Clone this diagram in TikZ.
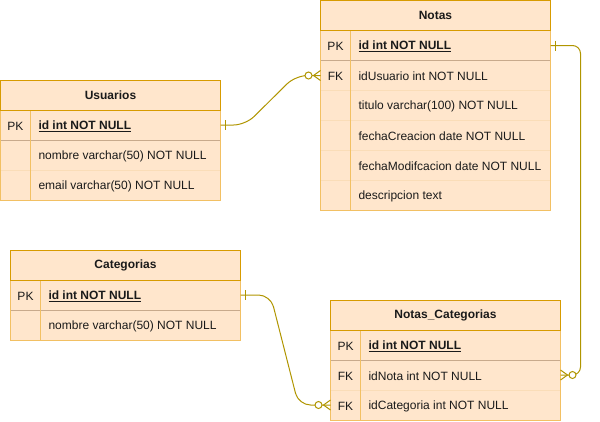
\documentclass[tikz,border=0pt]{standalone}
\usepackage{fontspec}
\setmainfont{Liberation Sans}
\usetikzlibrary{calc}
\definecolor{fillc}{HTML}{FFE6CC}
\definecolor{hdrline}{HTML}{D79B00}
\definecolor{rowline}{HTML}{F2C063}
\definecolor{sepline}{HTML}{FADDB8}
\definecolor{pkline}{HTML}{C8AA8C}
\definecolor{conn}{HTML}{B09500}
\definecolor{txt}{HTML}{1A1A1A}
\begin{document}
\begin{tikzpicture}[x=1pt,y=-1pt,
  every node/.style={inner sep=0pt, outer sep=0pt},
  hdrbox/.style={draw=hdrline, fill=fillc, line width=1pt, anchor=north west, minimum height=30pt, font=\fontsize{12pt}{14pt}\selectfont\bfseries, text=txt},
  rowbox/.style={fill=fillc, anchor=north west, minimum height=30pt},
  keytxt/.style={font=\fontsize{12pt}{14pt}\selectfont, text=txt, yshift=-1pt},
  fieldtxt/.style={anchor=west, font=\fontsize{12pt}{14pt}\selectfont, text=txt, yshift=-1pt},
  pktxt/.style={anchor=west, font=\fontsize{12pt}{14pt}\selectfont\bfseries, text=txt, yshift=-1pt},
  outerl/.style={draw=rowline, line width=1pt},
  sepl/.style={draw=sepline, line width=1pt},
  pkl/.style={draw=pkline, line width=1pt},
  conline/.style={draw=conn, line width=1pt},
  circmark/.style={draw=conn, line width=1pt, fill=white}
]
\useasboundingbox (0,0) rectangle (600,421);

% ---------------- Usuarios ----------------
\node[rowbox, minimum width=220pt] (uR1) at (0.5,110) {};
\node[rowbox, minimum width=220pt] (uR2) at (0.5,140) {};
\node[rowbox, minimum width=220pt] (uR3) at (0.5,170) {};
\draw[sepl] (uR3.north west) -- (uR3.north east);
\draw[pkl] (uR1.south west) -- (uR1.south east);
\draw[outerl] ($(uR1.north west)+(30,0)$) -- ($(uR3.south west)+(30,0)$);
\draw[outerl] (uR1.north west) rectangle (uR3.south east);
\node[hdrbox, minimum width=220pt] (uH) at (0.5,80) {Usuarios};
\node[keytxt] (uK1) at ($(uR1.west)+(15,0)$) {PK};
\node[pktxt] (uF1) at ($(uR1.west)+(38,0)$) {\underline{id int NOT NULL}};
\node[fieldtxt] (uF2) at ($(uR2.west)+(38,0)$) {nombre varchar(50) NOT NULL};
\node[fieldtxt] (uF3) at ($(uR3.west)+(38,0)$) {email varchar(50) NOT NULL};

% ---------------- Notas ----------------
\node[rowbox, minimum width=230pt] (nR1) at (320.5,30.5) {};
\node[rowbox, minimum width=230pt] (nR2) at (320.5,60.5) {};
\node[rowbox, minimum width=230pt] (nR3) at (320.5,90.5) {};
\node[rowbox, minimum width=230pt] (nR4) at (320.5,120.5) {};
\node[rowbox, minimum width=230pt] (nR5) at (320.5,150.5) {};
\node[rowbox, minimum width=230pt] (nR6) at (320.5,180.5) {};
\foreach \r in {nR3,nR4,nR5,nR6}{\draw[sepl] (\r.north west) -- (\r.north east);}
\draw[pkl] (nR1.south west) -- (nR1.south east);
\draw[outerl] ($(nR1.north west)+(30,0)$) -- ($(nR6.south west)+(30,0)$);
\draw[outerl] (nR1.north west) rectangle (nR6.south east);
\node[hdrbox, minimum width=230pt] (nH) at (320.5,0.5) {Notas};
\node[keytxt] (nK1) at ($(nR1.west)+(15,0)$) {PK};
\node[keytxt] (nK2) at ($(nR2.west)+(15,0)$) {FK};
\node[pktxt] (nF1) at ($(nR1.west)+(38,0)$) {\underline{id int NOT NULL}};
\node[fieldtxt] (nF2) at ($(nR2.west)+(38,0)$) {idUsuario int NOT NULL};
\node[fieldtxt] (nF3) at ($(nR3.west)+(38,0)$) {titulo varchar(100) NOT NULL};
\node[fieldtxt] (nF4) at ($(nR4.west)+(38,0)$) {fechaCreacion date NOT NULL};
\node[fieldtxt] (nF5) at ($(nR5.west)+(38,0)$) {fechaModifcacion date NOT NULL};
\node[fieldtxt] (nF6) at ($(nR6.west)+(38,0)$) {descripcion text};

% ---------------- Categorias ----------------
\node[rowbox, minimum width=230pt] (cR1) at (10.5,280) {};
\node[rowbox, minimum width=230pt] (cR2) at (10.5,310) {};
\draw[pkl] (cR1.south west) -- (cR1.south east);
\draw[outerl] ($(cR1.north west)+(30,0)$) -- ($(cR2.south west)+(30,0)$);
\draw[outerl] (cR1.north west) rectangle (cR2.south east);
\node[hdrbox, minimum width=230pt] (cH) at (10.5,250) {Categorias};
\node[keytxt] (cK1) at ($(cR1.west)+(15,0)$) {PK};
\node[pktxt] (cF1) at ($(cR1.west)+(38,0)$) {\underline{id int NOT NULL}};
\node[fieldtxt] (cF2) at ($(cR2.west)+(38,0)$) {nombre varchar(50) NOT NULL};

% ---------------- Notas_Categorias ----------------
\node[rowbox, minimum width=230pt] (ncR1) at (330.5,330) {};
\node[rowbox, minimum width=230pt] (ncR2) at (330.5,360) {};
\node[rowbox, minimum width=230pt] (ncR3) at (330.5,390) {};
\draw[sepl] (ncR3.north west) -- (ncR3.north east);
\draw[pkl] (ncR1.south west) -- (ncR1.south east);
\draw[outerl] ($(ncR1.north west)+(30,0)$) -- ($(ncR3.south west)+(30,0)$);
\draw[outerl] (ncR1.north west) rectangle (ncR3.south east);
\node[hdrbox, minimum width=230pt] (ncH) at (330.5,300) {Notas\_Categorias};
\node[keytxt] (ncK1) at ($(ncR1.west)+(15,0)$) {PK};
\node[keytxt] (ncK2) at ($(ncR2.west)+(15,0)$) {FK};
\node[keytxt] (ncK3) at ($(ncR3.west)+(15,0)$) {FK};
\node[pktxt] (ncF1) at ($(ncR1.west)+(38,0)$) {\underline{id int NOT NULL}};
\node[fieldtxt] (ncF2) at ($(ncR2.west)+(38,0)$) {idNota int NOT NULL};
\node[fieldtxt] (ncF3) at ($(ncR3.west)+(38,0)$) {idCategoria int NOT NULL};

% ---------------- Connectors ----------------
% Usuarios.id -> Notas.idUsuario
\draw[conline, rounded corners=12pt] (uR1.east) -- ++(25,0) -- ($(nR2.west)+(-25,0)$) -- (nR2.west);
\draw[conline] ($(uR1.east)+(5,-5)$) -- ($(uR1.east)+(5,5)$);
\draw[conline] ($(nR2.west)+(-7,0)$) -- ($(nR2.west)+(0,-5)$);
\draw[conline] ($(nR2.west)+(-7,0)$) -- ($(nR2.west)+(0,5)$);
\draw[circmark] ($(nR2.west)+(-12,0)$) circle (3.5pt);

% Notas.id -> Notas_Categorias.idNota
\draw[conline, rounded corners=8pt] (nR1.east) -- ++(30,0) |- (ncR2.east);
\draw[conline] ($(nR1.east)+(5,-5)$) -- ($(nR1.east)+(5,5)$);
\draw[conline] ($(ncR2.east)+(7,0)$) -- ($(ncR2.east)+(0,-5)$);
\draw[conline] ($(ncR2.east)+(7,0)$) -- ($(ncR2.east)+(0,5)$);
\draw[circmark] ($(ncR2.east)+(12,0)$) circle (3.5pt);

% Categorias.id -> Notas_Categorias.idCategoria
\draw[conline, rounded corners=12pt] (cR1.east) -- ++(30,0) -- ($(ncR3.west)+(-32,0)$) -- (ncR3.west);
\draw[conline] ($(cR1.east)+(5,-5)$) -- ($(cR1.east)+(5,5)$);
\draw[conline] ($(ncR3.west)+(-7,0)$) -- ($(ncR3.west)+(0,-5)$);
\draw[conline] ($(ncR3.west)+(-7,0)$) -- ($(ncR3.west)+(0,5)$);
\draw[circmark] ($(ncR3.west)+(-12,0)$) circle (3.5pt);
\end{tikzpicture}
\end{document}
